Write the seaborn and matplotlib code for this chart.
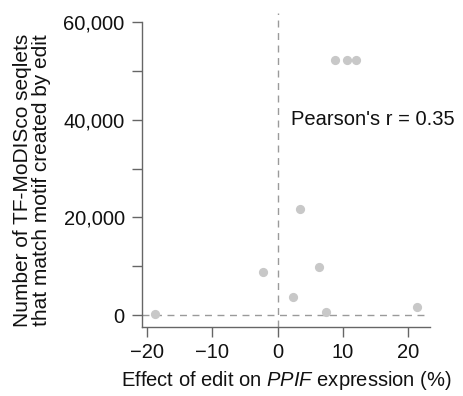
import matplotlib
matplotlib.use("Agg")
import matplotlib.pyplot as plt
import seaborn as sns
import pandas as pd

# Effect of each edit on PPIF expression (%) and matching seqlet counts
effect_pct = [-18.8, -2.3, 2.4, 3.4, 6.4, 7.5, 8.8, 10.6, 12.0, 21.4]
seqlet_count = [300, 8900, 3800, 21700, 9800, 600, 52250, 52250, 52250, 1600]
pearson_r = 0.35

x_ticks = [-20, -10, 0, 10, 20]
y_major = [0, 20000, 40000, 60000]
y_minor = [10000, 30000, 50000]

df = pd.DataFrame({"effect": effect_pct, "count": seqlet_count})

sns.set_style("white")
plt.rcParams["font.family"] = ["Liberation Sans", "DejaVu Sans"]
plt.rcParams["mathtext.fontset"] = "custom"
plt.rcParams["mathtext.it"] = "Liberation Sans:italic"
plt.rcParams["mathtext.rm"] = "Liberation Sans"

FS = 14.5
TXT = "#111111"

fig = plt.figure(figsize=(4.63, 3.96), dpi=100)
ax = fig.add_axes([142 / 463, 69 / 396, 288 / 463, 314 / 396])

ax.axvline(0, color="#9a9a9a", lw=1.0, ls=(0, (5, 4)), zorder=1)
ax.axhline(0, color="#9a9a9a", lw=1.0, ls=(0, (5, 4)), zorder=1)

sns.scatterplot(data=df, x="effect", y="count", ax=ax, color="#c8c8c8",
                s=44, linewidth=0, zorder=3)

ax.set_xlim(-20.8, 23.4)
ax.set_ylim(-2400, 61800)

ax.set_xticks(x_ticks)
ax.set_xticklabels(["\u221220", "\u221210", "0", "10", "20"])
ax.set_yticks(y_major)
ax.set_yticklabels([f"{v:,}" for v in y_major])
ax.set_yticks(y_minor, minor=True)

for side in ["top", "right"]:
    ax.spines[side].set_visible(False)
for side in ["left", "bottom"]:
    ax.spines[side].set_color("#666666")
    ax.spines[side].set_linewidth(1.0)
ax.spines["left"].set_bounds(-2400, 60000)

ax.tick_params(axis="both", which="both", direction="out", length=7,
               width=1.0, color="#666666", labelsize=FS, labelcolor=TXT,
               left=True, bottom=True)
ax.tick_params(axis="y", which="both", pad=5.5)
ax.tick_params(axis="x", which="both", pad=4.5)

ax.text(2.0, 40000, f"Pearson's r = {pearson_r:.2f}", fontsize=FS,
        va="center", ha="left", color=TXT)

ax.set_xlabel("Effect of edit on $\\mathit{PPIF}$ expression (%)",
              fontsize=FS, color=TXT, labelpad=5)
ax.set_ylabel("Number of TF-MoDISco seqlets\nthat match motif created by edit",
              fontsize=15, color=TXT, linespacing=0.98)
ax.yaxis.set_label_coords(-0.316, 0.468)

fig.savefig("out.png", dpi=100)
